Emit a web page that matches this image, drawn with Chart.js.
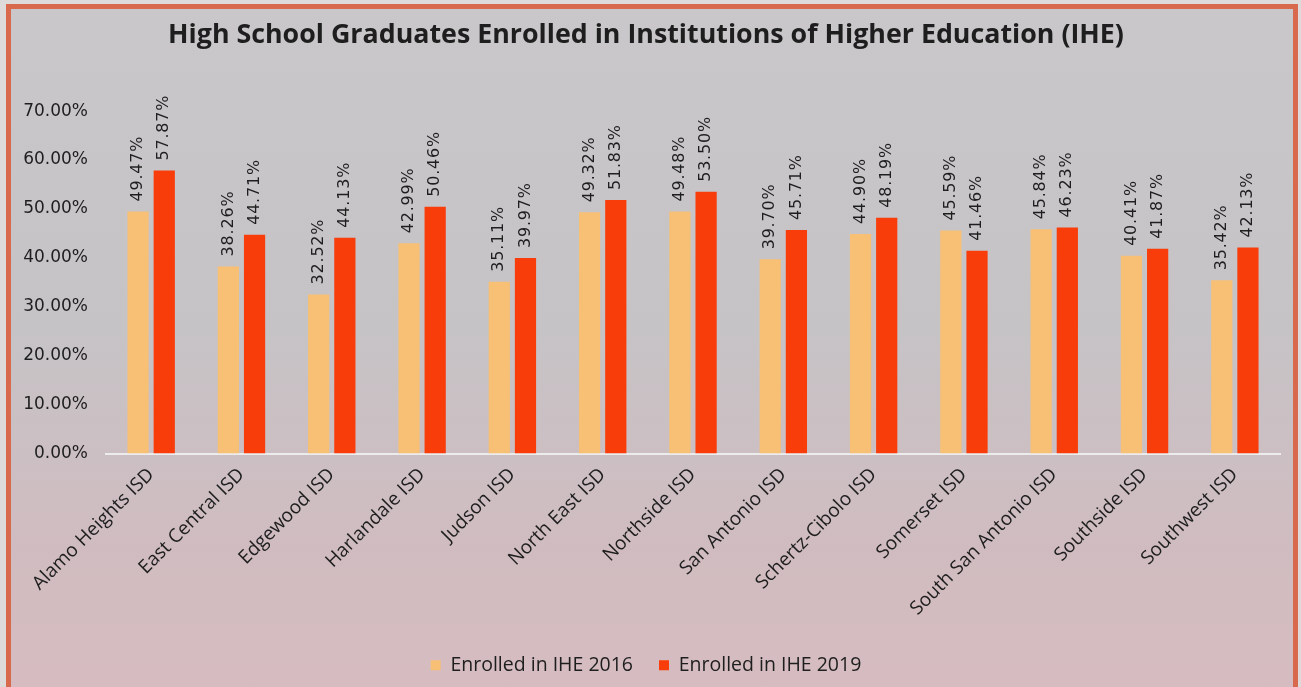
<!DOCTYPE html>
<html>
<head>
<meta charset="utf-8">
<script src="https://cdn.jsdelivr.net/npm/chart.js@4.4.0/dist/chart.umd.min.js"></script>
<style>
  html, body { margin: 0; padding: 0; width: 1301px; height: 687px; overflow: hidden; background: #dedad9; }
  #frame {
    position: absolute; left: 6px; top: 4px; width: 1282px; height: 720px;
    border: 5px solid #d9694c;
    background: linear-gradient(to bottom, #c9c7ca 0%, #c6c3c6 45%, #d0bcc0 75%, #d8bcc0 100%);
  }
  #wrap { position: absolute; left: 0; top: 0; width: 1301px; height: 687px; }
</style>
</head>
<body>
<div id="frame"></div>
<div id="wrap"><canvas id="ihe" width="1301" height="687"></canvas></div>
<script>
  // districts and enrollment rates (%)
  var districts = ["Alamo Heights ISD", "East Central ISD", "Edgewood ISD", "Harlandale ISD",
    "Judson ISD", "North East ISD", "Northside ISD", "San Antonio ISD", "Schertz-Cibolo ISD",
    "Somerset ISD", "South San Antonio ISD", "Southside ISD", "Southwest ISD"];
  var ihe2016 = [49.47, 38.26, 32.52, 42.99, 35.11, 49.32, 49.48, 39.70, 44.90, 45.59, 45.84, 40.41, 35.42];
  var ihe2019 = [57.87, 44.71, 44.13, 50.46, 39.97, 51.83, 53.50, 45.71, 48.19, 41.46, 46.23, 41.87, 42.13];

  var textColor = "#1e1e1e";
  var baseFont = "'Open Sans', 'DejaVu Sans', sans-serif";
  var numFont = "'DejaVu Sans', sans-serif";

  // draw the value above each bar, rotated
  var valueLabels = {
    id: "valueLabels",
    afterDatasetsDraw: function(chart) {
      var ctx = chart.ctx;
      ctx.save();
      ctx.font = "16px " + numFont;
      ctx.fillStyle = textColor;
      ctx.letterSpacing = "0.8px";
      ctx.textAlign = "left";
      ctx.textBaseline = "middle";
      chart.data.datasets.forEach(function(ds, i) {
        chart.getDatasetMeta(i).data.forEach(function(bar, j) {
          ctx.save();
          ctx.translate(bar.x, bar.y - 10);
          ctx.rotate(-Math.PI / 2);
          ctx.fillText(ds.data[j].toFixed(2) + "%", 0, 0);
          ctx.restore();
        });
      });
      ctx.restore();
    }
  };

  var ctx = document.getElementById("ihe").getContext("2d");
  var chart = new Chart(ctx, {
    type: "bar",
    data: {
      labels: districts,
      datasets: [
        { label: "Enrolled in IHE 2016", data: ihe2016, backgroundColor: "#f7c074" },
        { label: "Enrolled in IHE 2019", data: ihe2019, backgroundColor: "#f83c0a" }
      ]
    },
    options: {
      responsive: false,
      animation: false,
      layout: { padding: { left: 12, right: 21, top: 0, bottom: 2 } },
      datasets: { bar: { categoryPercentage: 0.58, barPercentage: 0.81 } },
      plugins: {
        title: {
          display: true,
          text: "High School Graduates Enrolled in Institutions of Higher Education (IHE)",
          color: textColor,
          font: { family: baseFont, size: 26.8, weight: "bold" },
          padding: { top: 19, bottom: 60 }
        },
        legend: {
          position: "bottom",
          labels: {
            color: textColor,
            font: { family: baseFont, size: 19.5 },
            boxWidth: 10, boxHeight: 10, padding: 26
          }
        },
        tooltip: { enabled: false }
      },
      scales: {
        x: {
          grid: { display: false },
          border: { color: "#ececec", width: 2 },
          ticks: {
            color: textColor,
            font: { family: baseFont, size: 19 },
            minRotation: 45, maxRotation: 45, padding: 2
          },
          afterFit: function(scale) { scale.height = 176; }
        },
        y: {
          min: 0, max: 70,
          grid: { display: false },
          border: { display: false },
          ticks: {
            stepSize: 10,
            color: textColor,
            font: { family: numFont, size: 17 },
            padding: 10,
            callback: function(v) { return v.toFixed(2) + "%"; }
          },
          afterFit: function(scale) { scale.width = 94; }
        }
      }
    },
    plugins: [valueLabels]
  });
</script>
</body>
</html>
